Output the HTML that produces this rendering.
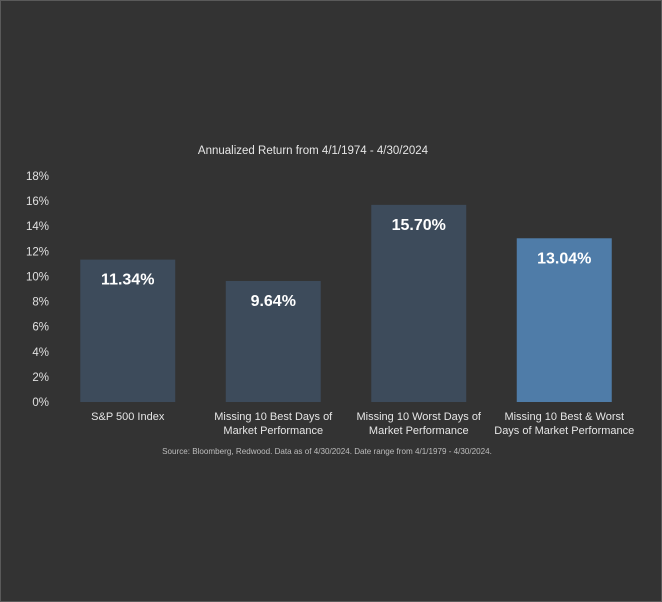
<!DOCTYPE html>
<html><head><meta charset="utf-8"><style>
html,body{margin:0;padding:0;background:#333;}
svg{display:block;font-family:"Liberation Sans",sans-serif;}
</style></head><body>
<svg width="662" height="602">
<rect x="0.5" y="0.5" width="661" height="601" fill="#333333" stroke="#5a5a5a"/>
<text x="313" y="154" fill="#e6e6e6" font-size="11.5" text-anchor="middle">Annualized Return from 4/1/1974 - 4/30/2024</text>
<g id="yaxis"></g>
<g id="bars"></g>
<text x="327" y="454" fill="#bdbdbd" font-size="8.1" text-anchor="middle">Source: Bloomberg, Redwood. Data as of 4/30/2024. Date range from 4/1/1979 - 4/30/2024.</text>
</svg>
<script>
const categories=[["S&P 500 Index"],["Missing 10 Best Days of","Market Performance"],["Missing 10 Worst Days of","Market Performance"],["Missing 10 Best & Worst","Days of Market Performance"]];
const values=[11.34,9.64,15.70,13.04];
const valueLabels=["11.34%","9.64%","15.70%","13.04%"];
const yTicks=[0,2,4,6,8,10,12,14,16,18];
const highlight=[false,false,false,true];
const NS="http://www.w3.org/2000/svg";
const y0=402,y1=176,vmax=18,left=55,right=637;
const y=v=>y0-(v/vmax)*(y0-y1);
const band=(right-left)/categories.length;
const cx=i=>left+band*(i+0.5);
function mk(t,a,p){const e=document.createElementNS(NS,t);for(const k in a)e.setAttribute(k,a[k]);p.appendChild(e);return e;}
const ya=document.getElementById('yaxis');
yTicks.forEach(t=>{const e=mk('text',{x:49,y:y(t)+4,fill:'#e0e0e0','font-size':11.5,'text-anchor':'end'},ya);


e.textContent=t+'%';});
const bg=document.getElementById('bars');
values.forEach((v,i)=>{const w=95;
const r=mk('rect',{x:cx(i)-w/2,y:y(v),width:w,height:y0-y(v),fill:highlight[i]?'#4f7ca8':'#3d4b5b'},bg);


const t=mk('text',{x:cx(i),y:y(v)+25,fill:'#ffffff','font-size':16,'font-weight':'bold','text-anchor':'middle'},bg);


t.textContent=valueLabels[i];
categories[i].forEach((line,j)=>{const c=mk('text',{x:cx(i),y:420+j*14,fill:'#e6e6e6','font-size':11,'text-anchor':'middle'},bg);


c.textContent=line;});
});
</script>
</body></html>
